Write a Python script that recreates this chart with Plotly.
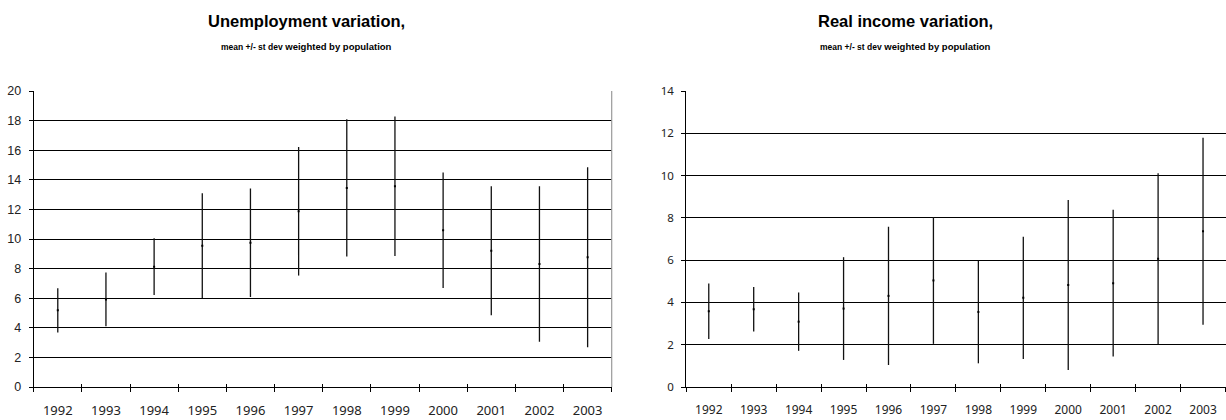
import plotly.graph_objects as go

years = ["1992", "1993", "1994", "1995", "1996", "1997", "1998", "1999", "2000", "2001", "2002", "2003"]

unemp_mean = [5.18, 5.92, 8.13, 9.55, 9.75, 11.87, 13.45, 13.56, 10.59, 9.21, 8.31, 8.76]
unemp_sd = [1.49, 1.82, 1.92, 3.54, 3.67, 4.34, 4.64, 4.71, 3.90, 4.36, 5.26, 6.08]

income_mean = [3.58, 3.68, 3.09, 3.71, 4.31, 5.04, 3.55, 4.22, 4.82, 4.91, 6.06, 7.37]
income_sd = [1.31, 1.05, 1.38, 2.43, 3.27, 3.00, 2.43, 2.89, 4.02, 3.47, 4.05, 4.42]

titles = ["Unemployment variation,", "Real income variation,"]
subtitle = "<span style='font-size:8.5px'>mean +/- st dev</span> weighted by population"

fig = go.Figure()

def add_series(means, sds, xa, ya):
    fig.add_trace(go.Scatter(
        x=years, y=means, xaxis=xa, yaxis=ya, mode="markers",
        marker=dict(symbol="square", size=2, color="#000"),
        error_y=dict(type="data", array=sds, symmetric=True, width=0,
                     thickness=1.3, color="#111"),
        showlegend=False, hoverinfo="skip"))

add_series(unemp_mean, unemp_sd, "x", "y")
add_series(income_mean, income_sd, "x2", "y2")
# invisible helpers for the inside half of the crossing x ticks
fig.add_trace(go.Scatter(x=years, y=unemp_mean, xaxis="x3", yaxis="y", mode="none",
                         showlegend=False, hoverinfo="skip"))
fig.add_trace(go.Scatter(x=years, y=income_mean, xaxis="x4", yaxis="y2", mode="none",
                         showlegend=False, hoverinfo="skip"))

W, H = 1226, 420
dom_y = [1 - 387 / H, 1 - 91 / H]
dom_x1 = [33.7 / W, 611.7 / W]
dom_x2 = [686.3 / W, 1225.5 / W]

xfont1 = dict(family="Noto Sans, DejaVu Sans, sans-serif", size=13, color="#222")
xfont2 = dict(family="Noto Sans, DejaVu Sans, sans-serif", size=12, color="#222")
yfont1 = dict(family="Liberation Sans, Arial, sans-serif", size=12.5, color="#222")
yfont2 = dict(family="Noto Sans, DejaVu Sans, sans-serif", size=11.5, color="#222")

def xaxis(dom, anchor, font):
    return dict(domain=dom, anchor=anchor, type="category", categoryorder="array",
                categoryarray=years, range=[-0.5, 11.5], automargin=False,
                showline=True, linecolor="#000", linewidth=1.2,
                ticks="outside", ticklen=4, tickcolor="#000", tickwidth=1,
                tickson="boundaries", showgrid=False, tickfont=font,
                ticklabelstandoff=11, fixedrange=True)

def xover(dom, anchor, over):
    return dict(domain=dom, anchor=anchor, overlaying=over, type="category",
                categoryorder="array", categoryarray=years, range=[-0.5, 11.5],
                automargin=False, showline=False, ticks="inside", ticklen=3,
                tickcolor="#000", tickwidth=1, tickson="boundaries", showgrid=False,
                showticklabels=False, fixedrange=True)

def yaxis(dom, anchor, rng, dtick, font):
    return dict(domain=dom, anchor=anchor, range=rng, dtick=dtick, tick0=0,
                automargin=False, showline=True, linecolor="#000", linewidth=1.2,
                ticks="outside", ticklen=4, tickcolor="#000", tickwidth=1,
                showgrid=True, gridcolor="#000", gridwidth=1, zeroline=False,
                tickfont=font, ticklabelstandoff=5, fixedrange=True)

fig.update_layout(
    width=W, height=H, margin=dict(l=0, r=0, t=0, b=0, autoexpand=False),
    paper_bgcolor="white", plot_bgcolor="white",
    xaxis=xaxis(dom_x1, "y", xfont1),
    xaxis2=xaxis(dom_x2, "y2", xfont2),
    xaxis3=xover(dom_x1, "y", "x"),
    xaxis4=xover(dom_x2, "y2", "x2"),
    yaxis=yaxis(dom_y, "x", [0, 20], 2, yfont1),
    yaxis2=yaxis(dom_y, "x2", [0, 14], 2, yfont2),
    shapes=[dict(type="line", xref="x domain", yref="y domain", x0=1, x1=1,
                 y0=0, y1=1, line=dict(color="#999", width=1.2))],
)

tfont = dict(family="Liberation Sans, Arial, sans-serif", size=16.5, color="#000")
sfont = dict(family="Liberation Sans, Arial, sans-serif", size=9.5, color="#000")
for cx, t in zip([306.5 / W, 905 / W], titles):
    fig.add_annotation(text="<b>" + t + "</b>", x=cx, y=1 - 21 / H, xref="paper", yref="paper",
                       showarrow=False, font=tfont, xanchor="center", yanchor="middle")
    fig.add_annotation(text="<b>" + subtitle + "</b>", x=cx, y=1 - 46 / H, xref="paper",
                       yref="paper", showarrow=False, font=sfont, xanchor="center",
                       yanchor="middle")

fig.write_html("out.html", config={"displayModeBar": False},
               post_script="document.body.style.margin='0';document.body.style.overflow='hidden';")
